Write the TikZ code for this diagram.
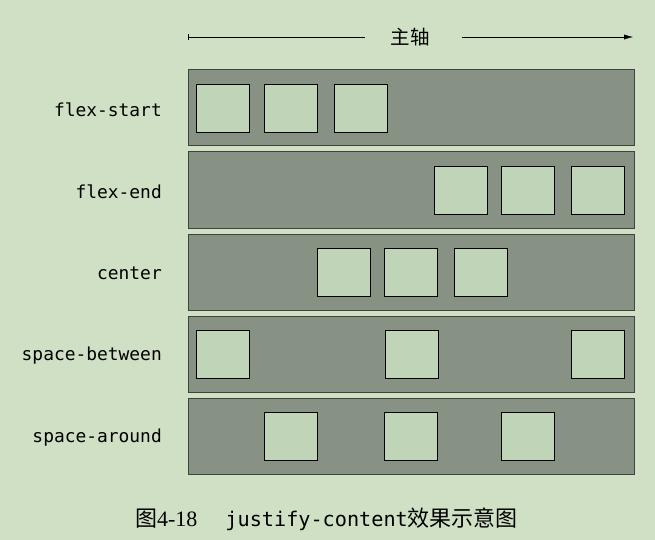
\documentclass[tikz,border=0pt]{standalone}
\usepackage{fontspec}
\setmainfont{Liberation Serif}
\setmonofont{DejaVu Sans Mono}
\newfontfamily\cjk{Noto Sans CJK SC}
\usetikzlibrary{arrows.meta}
\definecolor{bgcol}{RGB}{208,224,196}
\definecolor{rowcol}{RGB}{135,146,133}
\definecolor{rowline}{RGB}{62,70,60}
\definecolor{itemcol}{RGB}{192,212,184}
\tikzset{
  container/.style={draw=rowline, fill=rowcol, line width=1pt, minimum width=446pt, minimum height=76pt},
  item/.style={draw=black, fill=itemcol, line width=0.9pt, minimum width=53pt, minimum height=48pt},
  rowlabel/.style={anchor=east, font=\ttfamily\fontsize{17.9}{18}\selectfont}
}

\begin{document}
\begin{tikzpicture}[x=1pt, y=-1pt, every node/.style={inner sep=0pt}]
	\fill[bgcol] (0,0) rectangle (655,540);
	\useasboundingbox (0,0) rectangle (655,540);
	% main axis
	\node[font=\cjk\fontsize{19.5}{20}\selectfont] (axis) at (410,37) {主轴};
	\coordinate (axL) at (188,37);
	\coordinate (axA) at (365,37);
	\coordinate (axB) at (462,37);
	\coordinate (axR) at (633,37);
	\draw[{Bar[width=6pt]}-] (axL) -- (axA);
	\draw[-{Latex[length=9pt,width=5pt]}] (axB) -- (axR);
	% rows
	\foreach \i/\lab/\xs in {1/flex-start/{196,264,334},2/flex-end/{434,501,571},3/center/{317,384,454},4/space-between/{196,385,571},5/space-around/{264,384,501}}
	{
		\pgfmathsetmacro{\yc}{108+(\i-1)*82}
		\node[container] (row\i) at (411,\yc) {};
		\node[rowlabel] (lab\i) at (162,\yc+1.5) {\lab};
		\foreach \x [count=\k] in \xs
		{
			\node[item] (box\i\k) at (\x+26.5,\yc) {};
		}
	}
	% caption
	\node[font=\fontsize{22}{22}\selectfont] (caption) at (326.5,519)
		{{\cjk 图}4-18\hspace{28pt}{\ttfamily\fontsize{20.2}{21}\selectfont justify-content}{\cjk 效果示意图}};
\end{tikzpicture}
\end{document}
